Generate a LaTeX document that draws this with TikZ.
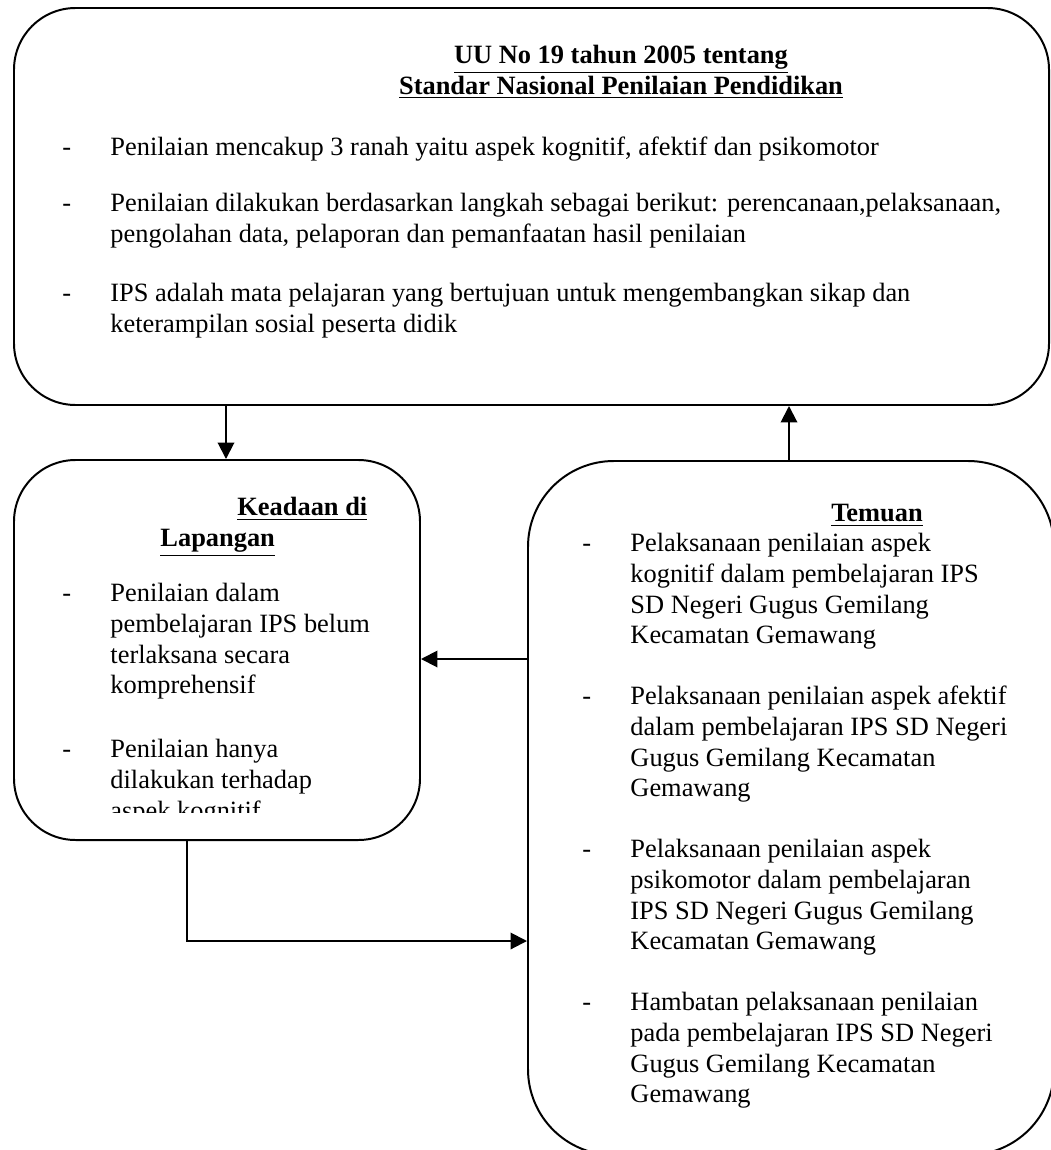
\documentclass[tikz,border=0pt]{standalone}
\usepackage{fontspec}
\setmainfont{Liberation Serif}
\usetikzlibrary{arrows.meta,fit}

\tikzset{
	box/.style={draw, line width=0.9pt, inner sep=0pt, rounded corners=28pt},
	bigbox/.style={box, rounded corners=39pt},
	txt/.style={anchor=north west, inner sep=0pt, align=left, font=\fontsize{12}{13.9}\selectfont},
	head/.style={txt, font=\fontsize{12}{13.9}\selectfont\bfseries},
	arr/.style={line width=0.9pt, -{Triangle[length=7.5pt,width=7.5pt]}}
}

\begin{document}
\begin{tikzpicture}[x=0.4545pt, y=-0.4545pt]
	%%%%% START %%%%%
	\useasboundingbox (0,0) rectangle (1051,1150);
	
	% the three boxes
	\node[box, fit={(14,8) (1049,405)}] (uu) {};
	\node[box, fit={(14,460) (420,840)}] (lap) {};
	\node[bigbox, fit={(528,461) (1054,1155)}] (tem) {};
	
	% top box
	\node[head, anchor=north, align=center] (uuhead) at (621,42) {\strut\underline{UU No 19 tahun 2005 tentang}\\\underline{Standar Nasional Penilaian Pendidikan}};
	\node[txt] (uud1) at (62,134) {\strut-};
	\node[txt] (uub1) at (110,134) {\strut Penilaian mencakup 3 ranah yaitu aspek kognitif, afektif dan psikomotor};
	\node[txt] (uud2) at (62,190) {\strut-};
	\node[txt] (uub2) at (110,190) {\strut Penilaian dilakukan berdasarkan langkah sebagai berikut: perencanaan,pelaksanaan,\\pengolahan data, pelaporan dan pemanfaatan hasil penilaian};
	\node[txt] (uud3) at (62,280) {\strut-};
	\node[txt] (uub3) at (110,280) {\strut IPS adalah mata pelajaran yang bertujuan untuk mengembangkan sikap dan\\keterampilan sosial peserta didik};
	
	% left box, text cut off at the bottom
	\begin{scope}
		\clip (14,460) rectangle (420,812);
		\node[head] (laphead) at (160,494) {\strut\hspace*{35pt}\underline{Keadaan di}\\\underline{Lapangan}};
		\node[txt] (lapd1) at (62,580) {\strut-};
		\node[txt] (lapb1) at (110,580) {\strut Penilaian dalam\\pembelajaran IPS belum\\terlaksana secara\\komprehensif};
		\node[txt] (lapd2) at (62,736) {\strut-};
		\node[txt] (lapb2) at (110,736) {\strut Penilaian hanya\\dilakukan terhadap\\aspek kognitif};
	\end{scope}
	
	% right box
	\node[head, anchor=north] (temhead) at (877,500) {\strut\underline{Temuan}};
	\node[txt] (temd1) at (582,530) {\strut-};
	\node[txt] (temb1) at (630,530) {\strut Pelaksanaan penilaian aspek\\kognitif dalam pembelajaran IPS\\SD Negeri Gugus Gemilang\\Kecamatan Gemawang};
	\node[txt] (temd2) at (582,683) {\strut-};
	\node[txt] (temb2) at (630,683) {\strut Pelaksanaan penilaian aspek afektif\\dalam pembelajaran IPS SD Negeri\\Gugus Gemilang Kecamatan\\Gemawang};
	\node[txt] (temd3) at (582,836) {\strut-};
	\node[txt] (temb3) at (630,836) {\strut Pelaksanaan penilaian aspek\\psikomotor dalam pembelajaran\\IPS SD Negeri Gugus Gemilang\\Kecamatan Gemawang};
	\node[txt] (temd4) at (582,989) {\strut-};
	\node[txt] (temb4) at (630,989) {\strut Hambatan pelaksanaan penilaian\\pada pembelajaran IPS SD Negeri\\Gugus Gemilang Kecamatan\\Gemawang};
	
	% connectors
	\coordinate (down) at (226,0);
	\coordinate (up) at (789,0);
	\coordinate (back) at (0,659);
	\coordinate (loopx) at (187,0);
	\coordinate (loopy) at (0,941);
	\draw[arr] (uu.south -| down) -- (lap.north -| down);
	\draw[arr] (tem.north -| up) -- (uu.south -| up);
	\draw[arr] (tem.west |- back) -- (lap.east |- back);
	\draw[arr] (lap.south -| loopx) |- (tem.west |- loopy);
	
	%%%%% END %%%%%
\end{tikzpicture}
\end{document}
